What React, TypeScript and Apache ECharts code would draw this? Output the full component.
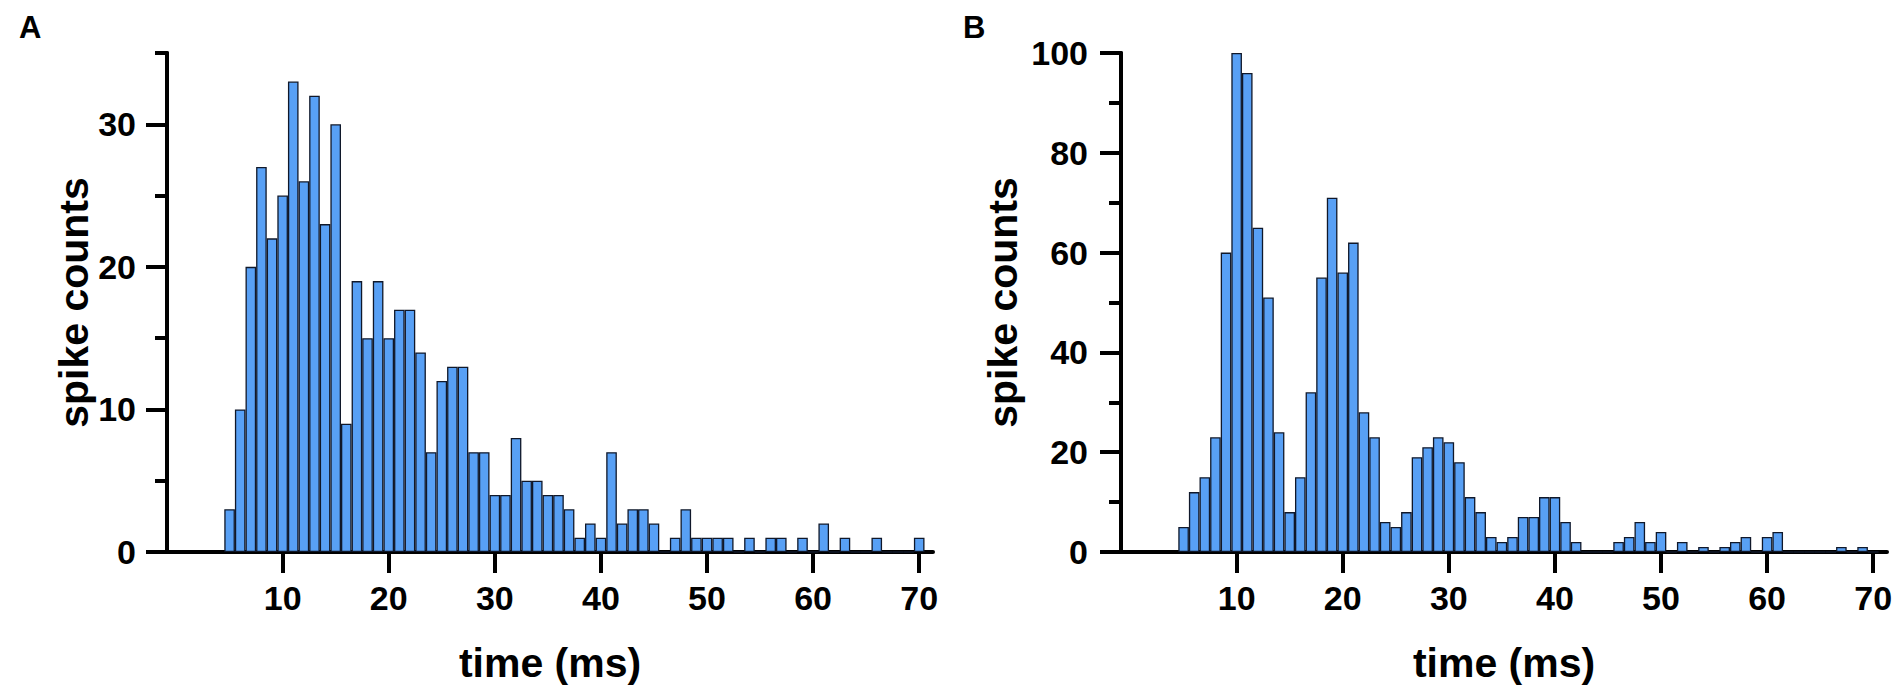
import React, { useEffect, useRef } from "react";
import * as echarts from "echarts";

// bin centres (ms), one bar per 1-ms bin
const timeBinsMs = [
  5, 6, 7, 8, 9, 10, 11, 12, 13, 14, 15, 16, 17, 18, 19, 20, 21, 22, 23, 24,
  25, 26, 27, 28, 29, 30, 31, 32, 33, 34, 35, 36, 37, 38, 39, 40, 41, 42, 43,
  44, 45, 46, 47, 48, 49, 50, 51, 52, 53, 54, 55, 56, 57, 58, 59, 60, 61, 62,
  63, 64, 65, 66, 67, 68, 69, 70,
];

// panel A spike counts
const spikeCountsA = [
  3, 10, 20, 27, 22, 25, 33, 26, 32, 23, 30, 9, 19, 15, 19, 15, 17, 17, 14, 7,
  12, 13, 13, 7, 7, 4, 4, 8, 5, 5, 4, 4, 3, 1, 2, 1, 7, 2, 3, 3,
  2, 0, 1, 3, 1, 1, 1, 1, 0, 1, 0, 1, 1, 0, 1, 0, 2, 0, 1, 0,
  0, 1, 0, 0, 0, 1,
];

// panel B spike counts
const spikeCountsB = [
  5, 12, 15, 23, 60, 100, 96, 65, 51, 24, 8, 15, 32, 55, 71, 56, 62, 28, 23, 6,
  5, 8, 19, 21, 23, 22, 18, 11, 8, 3, 2, 3, 7, 7, 11, 11, 6, 2, 0, 0,
  0, 2, 3, 6, 2, 4, 0, 2, 0, 1, 0, 1, 2, 3, 0, 3, 4, 0, 0, 0,
  0, 0, 1, 0, 1, 0,
];

const xTickValues = [10, 20, 30, 40, 50, 60, 70];
const yMajorA = [0, 10, 20, 30];
const yMinorA = [5, 15, 25, 35];
const yMajorB = [0, 20, 40, 60, 80, 100];
const yMinorB = [10, 30, 50, 70, 90];

const FONT = "'Liberation Sans', Arial, Helvetica, sans-serif";
const BAR_COLOR = "#58a0f5";
const BAR_BORDER = "#10182a";

function xAxisFor(gridIndex: number) {
  return {
    type: "value",
    gridIndex,
    min: -0.9,
    max: 71.3,
    name: "time (ms)",
    nameLocation: "middle",
    nameGap: 90,
    nameTextStyle: { fontFamily: FONT, fontWeight: "bold", fontSize: 41, color: "#000" },
    axisLine: { show: true, lineStyle: { color: "#000", width: 4 } },
    axisTick: { show: true, customValues: xTickValues, length: 21, lineStyle: { color: "#000", width: 4 } },
    axisLabel: {
      show: true,
      customValues: xTickValues,
      fontFamily: FONT,
      fontWeight: "bold",
      fontSize: 34,
      color: "#000",
      margin: 29,
    },
    splitLine: { show: false },
  };
}

function hiddenXAxis(gridIndex: number) {
  return { type: "value", gridIndex, min: -0.9, max: 71.3, show: false };
}

function yMajorAxis(gridIndex: number, max: number, ticks: number[], nameGap: number, labelMargin: number) {
  return {
    type: "value",
    gridIndex,
    position: "left",
    min: 0,
    max,
    name: "spike counts",
    nameLocation: "middle",
    nameGap,
    nameTextStyle: { fontFamily: FONT, fontWeight: "bold", fontSize: 41, color: "#000" },
    axisLine: { show: true, onZero: false, lineStyle: { color: "#000", width: 4 } },
    axisTick: { show: true, customValues: ticks, length: 21, lineStyle: { color: "#000", width: 4 } },
    axisLabel: {
      show: true,
      customValues: ticks,
      fontFamily: FONT,
      fontWeight: "bold",
      fontSize: 34,
      color: "#000",
      margin: labelMargin,
    },
    splitLine: { show: false },
  };
}

function yMinorAxis(gridIndex: number, max: number, ticks: number[]) {
  return {
    type: "value",
    gridIndex,
    position: "left",
    min: 0,
    max,
    axisLine: { show: true, onZero: false, lineStyle: { color: "#000", width: 4 } },
    axisTick: { show: true, customValues: ticks, length: 12, lineStyle: { color: "#000", width: 4 } },
    axisLabel: { show: false },
    splitLine: { show: false },
  };
}

export default function App() {
  const ref = useRef<HTMLDivElement>(null);

  useEffect(() => {
    if (!ref.current) return;
    const chart = echarts.init(ref.current, undefined, { renderer: "svg" });
    const gridA = { left: 167, top: 53, width: 766, height: 499 };
    const gridB = { left: 1121, top: 53, width: 766, height: 499 };
    const option = {
      animation: false,
      backgroundColor: "#fff",
      grid: [gridA, gridB, { ...gridA }, { ...gridB }],
      xAxis: [xAxisFor(0), xAxisFor(1), hiddenXAxis(2), hiddenXAxis(3)],
      yAxis: [
        yMajorAxis(0, 35, yMajorA, 72, 31),
        yMajorAxis(1, 100, yMajorB, 98, 33),
        yMinorAxis(2, 35, yMinorA),
        yMinorAxis(3, 100, yMinorB),
      ],
      graphic: [
        {
          type: "text",
          left: 19,
          top: 12,
          style: { text: "A", fontFamily: FONT, fontWeight: "bold", fontSize: 31, fill: "#000" },
        },
        {
          type: "text",
          left: 963,
          top: 12,
          style: { text: "B", fontFamily: FONT, fontWeight: "bold", fontSize: 31, fill: "#000" },
        },
      ],
      series: [
        {
          type: "bar",
          xAxisIndex: 0,
          yAxisIndex: 0,
          barWidth: "100%",
          data: timeBinsMs.map((t, i) => [t, spikeCountsA[i]]),
          itemStyle: { color: BAR_COLOR, borderColor: BAR_BORDER, borderWidth: 1.3 },
        },
        {
          type: "bar",
          xAxisIndex: 1,
          yAxisIndex: 1,
          barWidth: "100%",
          data: timeBinsMs.map((t, i) => [t, spikeCountsB[i]]),
          itemStyle: { color: BAR_COLOR, borderColor: BAR_BORDER, borderWidth: 1.3 },
        },
      ],
    };
    chart.setOption(option as any);
    return () => chart.dispose();
  }, []);

  return (
    <div
      ref={ref}
      style={{ position: "fixed", left: 0, top: 0, width: 1901, height: 691, background: "#fff" }}
    />
  );
}
